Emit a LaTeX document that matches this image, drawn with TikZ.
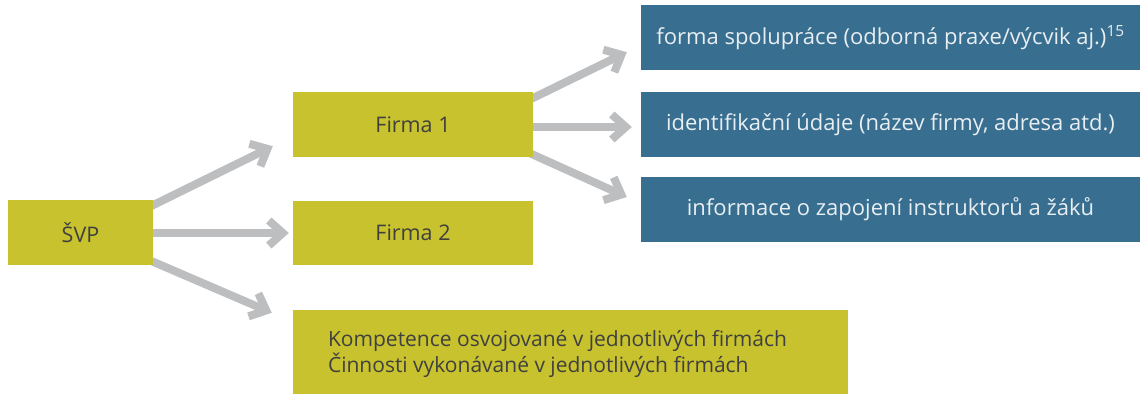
\documentclass[tikz,border=0pt]{standalone}
\usepackage{fontspec}
\setmainfont{Open Sans}
\usetikzlibrary{arrows.meta,calc,backgrounds}
\definecolor{grn}{RGB}{199,194,45}
\definecolor{blu}{RGB}{56,110,143}
\definecolor{arrgray}{RGB}{189,190,192}
\definecolor{darktxt}{RGB}{64,64,64}
\definecolor{lighttxt}{RGB}{232,238,242}
\begin{document}
\begin{tikzpicture}[x=1pt,y=-1pt,
  gbox/.style={rectangle,fill=grn,inner sep=0pt,text=darktxt,font=\fontsize{21.5}{26}\selectfont},
  bbox/.style={rectangle,fill=blu,inner sep=0pt,text=lighttxt,font=\fontsize{22}{26}\selectfont,minimum width=499pt,minimum height=65pt},
  arr/.style={draw=arrgray,line width=8pt,-{Straight Barb[length=14pt,width=25pt]}}]
\useasboundingbox (0,0) rectangle (1140,394);
\node[gbox,minimum width=145pt,minimum height=65pt] (svp) at (80.5,232.5) {ŠVP};
\node[gbox,minimum width=240pt,minimum height=65pt] (f1) at (413,124.5) {Firma 1};
\node[gbox,minimum width=240pt,minimum height=64pt] (f2) at (413,233) {Firma 2};
\node[gbox,minimum width=555pt,minimum height=84pt] (komp) at (570.5,352) {};
\node[gbox,anchor=west,align=left,font=\fontsize{21}{26}\selectfont] (kt) at ($(komp.west)+(35,2)$) {Kompetence osvojované v jednotlivých firmách\\Činnosti vykonávané v jednotlivých firmách};
\node[bbox] (b1) at (890.5,37.5) {forma spolupráce (odborná praxe/výcvik aj.)\textsuperscript{15}};
\node[bbox] (b2) at (890.5,124.5) {identifikační údaje (název firmy, adresa atd.)};
\node[bbox] (b3) at (890.5,209.5) {informace o zapojení instruktorů a žáků};
\begin{scope}[on background layer]
\draw[arr] ($(svp.east)+(-10,-22.5)$) -- ($(f1.south west)+(-20,-11)$);
\draw[arr] ($(svp.east)+(-10,0.5)$) -- ($(f2.west)+(-4,0)$);
\draw[arr] ($(svp.east)+(-10,25)$) -- ($(komp.north west)+(-21,3)$);
\draw[arr] ($(f1.north east)+(-10,11)$) -- ($(b1.south west)+(-14,-18)$);
\draw[arr] ($(f1.east)+(-10,2.5)$) -- ($(b2.west)+(-9,2.5)$);
\draw[arr] ($(f1.south east)+(-10,-7)$) -- ($(b3.west)+(-14,-12.5)$);
\end{scope}
\end{tikzpicture}
\end{document}
